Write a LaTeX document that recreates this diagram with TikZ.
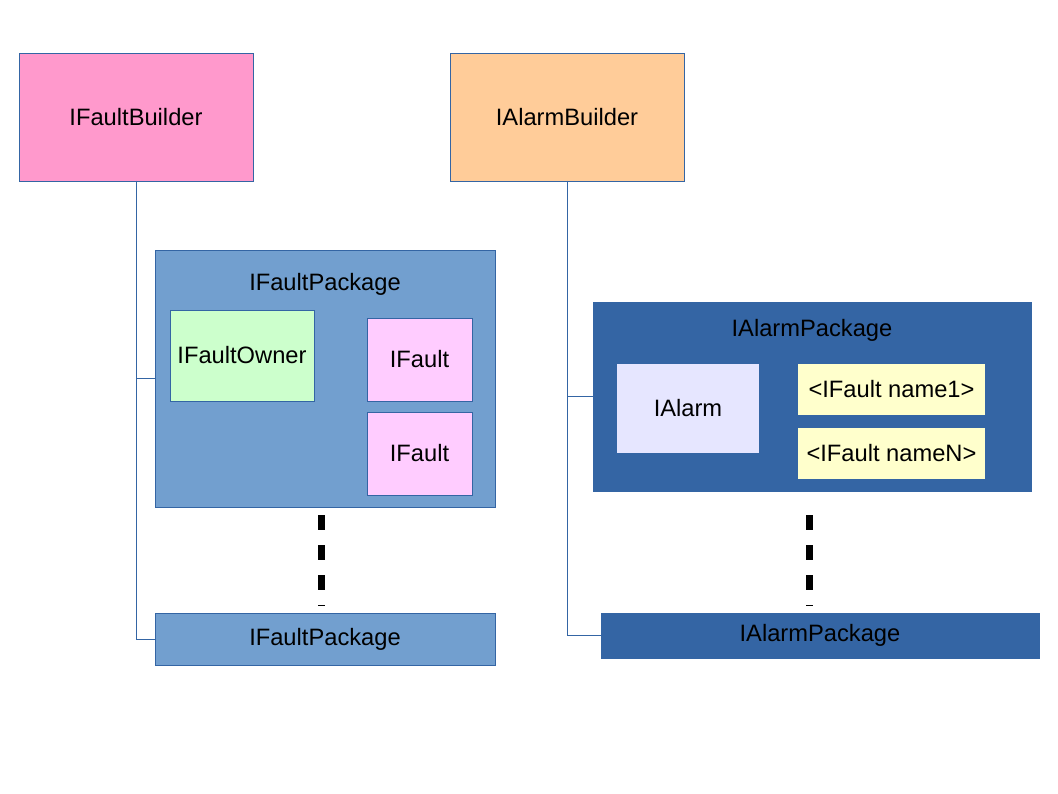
\documentclass[tikz,border=0pt]{standalone}
\usepackage{fontspec}
\setmainfont{Liberation Sans}
\definecolor{bord}{HTML}{3465A4}
\definecolor{pinkb}{HTML}{FF99CC}
\definecolor{orangeb}{HTML}{FFCC99}
\definecolor{lightblue}{HTML}{729FCF}
\definecolor{darkblue}{HTML}{3465A4}
\definecolor{greenb}{HTML}{CCFFCC}
\definecolor{faultb}{HTML}{FFCCFF}
\definecolor{alarmb}{HTML}{E6E6FF}
\definecolor{yellowb}{HTML}{FFFFCC}
\tikzset{
  box/.style={draw=bord, line width=0.9pt, inner sep=0pt, outer sep=0pt,
    font=\fontsize{23.7}{28}\selectfont, text=black},
  plain/.style={inner sep=0pt, outer sep=0pt, font=\fontsize{23.7}{28}\selectfont, text=black},
  conn/.style={draw=bord, line width=0.9pt},
  dots/.style={line width=6.5pt, dash pattern=on 14.5pt off 15.5pt, black}
}
\begin{document}
\begin{tikzpicture}[x=1pt,y=-1pt]
\useasboundingbox (0,0) rectangle (1058,794);
% builders
\node[box, fill=pinkb, minimum width=234, minimum height=128] (fb) at (136,117) {IFaultBuilder};
\node[box, fill=orangeb, minimum width=234, minimum height=128] (ab) at (567,117) {IAlarmBuilder};
% fault package
\node[box, fill=lightblue, minimum width=340, minimum height=257] (fp) at (325,378.5) {};
\node[plain] (fpt) at (325,284) {IFaultPackage};
\node[box, fill=greenb, minimum width=144, minimum height=91] (fo) at (242,355.5) {IFaultOwner};
\node[box, fill=faultb, minimum width=105, minimum height=83] (f1) at (419.5,359.5) {IFault};
\node[box, fill=faultb, minimum width=105, minimum height=83] (f2) at (419.5,453.5) {IFault};
\node[box, fill=lightblue, minimum width=340, minimum height=52] (fp2) at (325,639) {IFaultPackage};
% alarm package
\node[box, fill=darkblue, minimum width=438, minimum height=189] (ap) at (812,396.5) {};
\node[plain] (apt) at (812,330) {IAlarmPackage};
\node[box, draw=none, fill=alarmb, minimum width=142, minimum height=89] (al) at (688,408.5) {IAlarm};
\node[box, draw=none, fill=yellowb, minimum width=187, minimum height=51] (n1) at (891.5,389.5) {<IFault name1>};
\node[box, draw=none, fill=yellowb, minimum width=187, minimum height=51] (nn) at (891.5,453.5) {<IFault nameN>};
\node[box, fill=darkblue, minimum width=438, minimum height=45] (ap2) at (820,635.5) {IAlarmPackage};
% connectors
\draw[conn] (fb.south) |- (fp.west);
\draw[conn] (fb.south) |- (fp2.west);
\draw[conn] (ab.south) |- (ap.west);
\draw[conn] (ab.south) |- (ap2.west);
% continuation dashes
\coordinate (d1a) at (321.5,515);
\coordinate (d1b) at (321.5,606);
\coordinate (d2a) at (809.5,515);
\coordinate (d2b) at (809.5,606);
\draw[dots] (d1a) -- (d1b);
\draw[dots] (d2a) -- (d2b);
\end{tikzpicture}
\end{document}
